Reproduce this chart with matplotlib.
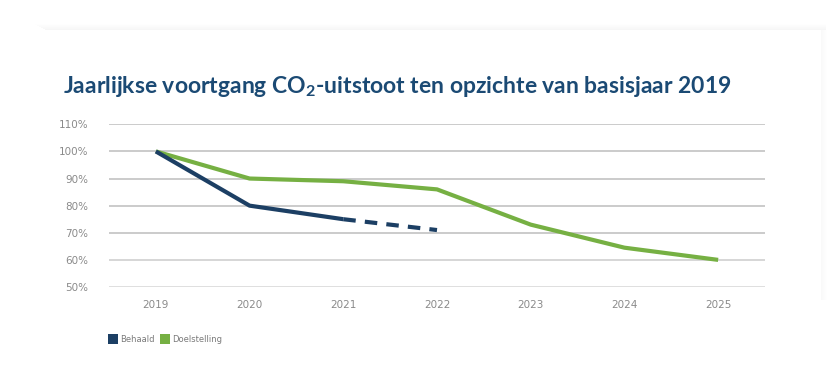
import numpy as np
import matplotlib
matplotlib.use("Agg")
from matplotlib import pyplot as plt
from matplotlib.patches import Rectangle

# data
years = ["2019", "2020", "2021", "2022", "2023", "2024", "2025"]
behaald = [100, 80, 75]               # achieved, solid part 2019-2021
behaald_prognose = [75, 71]           # dashed part 2021-2022
doelstelling = [100, 90, 89, 86, 73, 64.5, 60]
y_ticks = [50, 60, 70, 80, 90, 100, 110]

NAVY = "#1c3f64"
GREEN = "#76b043"
TITLE = "#1b4a74"
GREY_TXT = "#8a8a8a"

plt.rcParams["mathtext.fontset"] = "custom"
plt.rcParams["mathtext.rm"] = "Lato:bold"
plt.rcParams["mathtext.it"] = "Lato:bold"
plt.rcParams["mathtext.bf"] = "Lato:bold"

W, H = 840, 373
fig = plt.figure(figsize=(W / 100, H / 100), dpi=100)
fig.patch.set_facecolor("white")

# card shadow (top and right)
for i in range(6):
    a = 0.035 * (6 - i) / 6
    fig.patches.append(Rectangle(((45 - i * 2) / W, 1 - (30 - i) / H), (781 + i * 2) / W, 1 / H,
                                 transform=fig.transFigure, color="black", alpha=a, lw=0))
    fig.patches.append(Rectangle(((821 + i) / W, (373 - 300) / H), 1 / W, (300 - 30) / H,
                                 transform=fig.transFigure, color="black", alpha=a * 0.7, lw=0))

x = np.arange(len(years))
ax = fig.add_axes([109 / W, 1 - 287 / H, (765 - 109) / W, (287 - 124.3) / H])
ax.set_facecolor("none")

for t in y_ticks:
    c = "#d6d6d6" if t in (50, 60) else "#bdbdbd"
    ax.axhline(t, color=c, lw=1.4 if t == 60 else 1.1, zorder=1)

ax.plot(x, doelstelling, color=GREEN, lw=3, solid_capstyle="butt", zorder=3)
ax.plot(x[:3], behaald, color=NAVY, lw=3, solid_capstyle="butt", zorder=4)
ax.plot(x[2:4], behaald_prognose, color=NAVY, lw=3, dashes=(3, 2.2), zorder=4)

ax.set_xlim(-0.5, len(years) - 0.5)
ax.set_ylim(50, 110)
ax.set_xticks(x)
ax.set_xticklabels(years)
ax.set_yticks(y_ticks)
ax.set_yticklabels([f"{t}%" for t in y_ticks])
ax.tick_params(length=0, labelsize=7.5, labelcolor=GREY_TXT, pad=9)
ax.tick_params(axis="y", pad=15)
for s in ax.spines.values():
    s.set_visible(False)

fig.text(63 / W, 1 - 93 / H, r"Jaarlijkse voortgang CO$_{2}$-uitstoot ten opzichte van basisjaar 2019",
         fontsize=16.5, color=TITLE, family="Lato", fontweight="bold", va="baseline")

# legend
ly = 1 - 344 / H
for x0, col, lab in [(108, NAVY, "Behaald"), (160, GREEN, "Doelstelling")]:
    fig.patches.append(Rectangle((x0 / W, ly), 10 / W, 10 / H, transform=fig.transFigure, color=col, lw=0))
    fig.text((x0 + 12) / W, ly + 5 / H, lab, fontsize=6, color="#7a7a7a", va="center")

fig.savefig("out.png", dpi=100, facecolor="white")
